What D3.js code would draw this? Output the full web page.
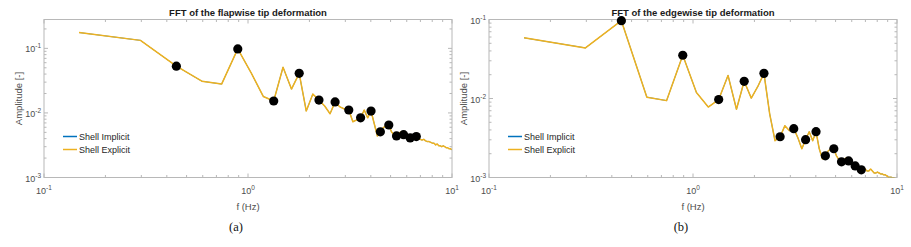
<!DOCTYPE html>
<meta charset="utf-8">
<style>
  body { margin: 0; background: #fff; }
  svg { display: block; font-family: "Liberation Sans", Arial, sans-serif; }
  .box { fill: none; stroke: #b8b8b8; stroke-width: 1px; }
  .tick { stroke: #b8b8b8; stroke-width: 1px; }
  .ticklab { font-size: 9px; fill: #4d4d4d; }
  .title { font-size: 9.5px; font-weight: bold; fill: #1a1a1a; }
  .alab { font-size: 9.5px; fill: #4d4d4d; }
  .caption { font-family: "Liberation Serif", "DejaVu Serif", serif; font-size: 12.5px; fill: #111; }
  .leg { font-size: 9px; fill: #262626; }
  .line { fill: none; stroke-width: 1.5px; stroke-linejoin: round; }
  .implicit { stroke: #0072bd; }
  .explicit { stroke: #edb120; }
  .under { stroke-width: 0.8px; }
</style>
<body>
<script src="https://cdn.jsdelivr.net/npm/d3@7"></script>
<script>

// frequency resolution of the FFT (Hz)
var df = 0.1485;

// flapwise spectrum, one value per frequency bin k*df (k = 1..67)
var flapAmp = [0.176, 0.133, 0.053, 0.031, 0.028, 0.098, 0.041, 0.018, 0.0153, 0.051,
  0.0234, 0.041, 0.0107, 0.0196, 0.0158, 0.0128, 0.0097, 0.0148, 0.0124, 0.0115,
  0.0111, 0.0073, 0.0078, 0.0084, 0.0111, 0.0084, 0.0107, 0.0068, 0.0044, 0.0051,
  0.0059, 0.0063, 0.0065, 0.0051, 0.0046, 0.0044, 0.0049, 0.0051, 0.0046, 0.0043,
  0.0041, 0.0041, 0.0043, 0.0044, 0.0043, 0.0040, 0.0039, 0.0038, 0.0039, 0.0037,
  0.0036, 0.0036, 0.0035, 0.0034, 0.0034, 0.0032, 0.0033, 0.0031, 0.0031, 0.0030,
  0.0031, 0.0030, 0.0029, 0.0029, 0.0028, 0.0028, 0.0027];

// edgewise spectrum, same bins
var edgeAmp = [0.0586, 0.0437, 0.0966, 0.0104, 0.0094, 0.0353, 0.0119, 0.0078, 0.0097, 0.0196,
  0.0073, 0.0165, 0.0101, 0.0142, 0.0208, 0.0064, 0.00292, 0.00328, 0.00453, 0.00391,
  0.00415, 0.00318, 0.00231, 0.00301, 0.00380, 0.00292, 0.00380, 0.00231, 0.00172, 0.00188,
  0.00218, 0.00231, 0.00231, 0.00188, 0.00167, 0.00162, 0.00167, 0.00177, 0.00167, 0.00153,
  0.00144, 0.00140, 0.00136, 0.00128, 0.00125, 0.00125, 0.00128, 0.00121, 0.00121, 0.00128,
  0.00121, 0.00114, 0.00114, 0.00117, 0.00114, 0.00111, 0.00111, 0.00108, 0.00108, 0.00105,
  0.00101, 0.00101, 0.00101, 0.00099, 0.00099, 0.00097, 0.00096];

// marked harmonics (bin index) and their amplitudes
var peakBins = [3, 6, 9, 12, 15, 18, 21, 24, 27, 30, 33, 36, 39, 42, 45];
var flapPeaks = [0.053, 0.098, 0.0153, 0.041, 0.0158, 0.0148, 0.0111, 0.0084, 0.0107, 0.0051,
  0.0065, 0.0044, 0.0046, 0.0041, 0.0043];
var edgePeaks = [0.0966, 0.0353, 0.0097, 0.0165, 0.0208, 0.00328, 0.00415, 0.00301, 0.00380, 0.00188,
  0.00231, 0.00158, 0.00162, 0.00140, 0.00125];

var xTicks = [0.1, 1, 10];
var xTickExp = ["-1", "0", "1"];
var yTicks = [0.001, 0.01, 0.1];
var yTickExp = ["-3", "-2", "-1"];

var legendNames = ["Shell Implicit", "Shell Explicit"];

var panels = [
  {left: 44, title: "FFT of the flapwise tip deformation", amp: flapAmp, peaks: flapPeaks,
   yMax: 0.28, caption: "(a)"},
  {left: 489, title: "FFT of the edgewise tip deformation", amp: edgeAmp, peaks: edgePeaks,
   yMax: 0.1, caption: "(b)"}
];

var plotW = 408, plotTop = 19.5, plotH = 158;

var svg = d3.select("body").append("svg")
    .attr("width", 911)
    .attr("height", 247);

panels.forEach(function(p, pi) {
  var g = svg.append("g").attr("transform", "translate(" + p.left + "," + plotTop + ")");

  var x = d3.scaleLog().domain([0.1, 10]).range([0, plotW]);
  var y = d3.scaleLog().domain([0.001, p.yMax]).range([plotH, 0]);

  var pts = p.amp.map(function(v, i) { return {f: (i + 1) * df, a: v}; });
  var peaks = p.peaks.map(function(v, i) { return {f: peakBins[i] * df, a: v}; });

  g.append("clipPath").attr("id", "clip" + pi)
    .append("rect").attr("width", plotW).attr("height", plotH);

  // minor + major ticks inside the box on all sides
  var xt = [];
  [0.1, 1].forEach(function(d) { for (var m = 1; m <= 9; m++) xt.push({v: d * m, major: m == 1}); });
  xt.push({v: 10, major: true});
  var yt = [];
  [0.001, 0.01, 0.1].forEach(function(d) {
    for (var m = 1; m <= 9; m++) if (d * m <= p.yMax * 1.0001) yt.push({v: d * m, major: m == 1});
  });

  xt.forEach(function(t) {
    var len = t.major ? 4 : 2.5;
    g.append("line").attr("class", "tick")
      .attr("x1", x(t.v)).attr("x2", x(t.v)).attr("y1", plotH).attr("y2", plotH - len);
    g.append("line").attr("class", "tick")
      .attr("x1", x(t.v)).attr("x2", x(t.v)).attr("y1", 0).attr("y2", len);
  });
  yt.forEach(function(t) {
    var len = t.major ? 4 : 2.5;
    g.append("line").attr("class", "tick")
      .attr("x1", 0).attr("x2", len).attr("y1", y(t.v)).attr("y2", y(t.v));
    g.append("line").attr("class", "tick")
      .attr("x1", plotW).attr("x2", plotW - len).attr("y1", y(t.v)).attr("y2", y(t.v));
  });

  g.append("rect").attr("class", "box").attr("width", plotW).attr("height", plotH);

  // tick labels with superscript exponents
  xTicks.forEach(function(t, i) {
    var tx = g.append("text").attr("class", "ticklab")
      .attr("x", x(t)).attr("y", plotH + 16).attr("text-anchor", "middle");
    tx.append("tspan").text("10");
    tx.append("tspan").attr("dy", -4).style("font-size", "6.5px").text(xTickExp[i]);
  });
  yTicks.forEach(function(t, i) {
    var tx = g.append("text").attr("class", "ticklab")
      .attr("x", -3).attr("y", y(t) + 4).attr("text-anchor", "end");
    tx.append("tspan").text("10");
    tx.append("tspan").attr("dy", -4).style("font-size", "6.5px").text(yTickExp[i]);
  });

  var line = d3.line()
      .x(function(d) { return x(d.f); })
      .y(function(d) { return y(d.a); });

  // implicit run sits underneath, almost fully covered by the explicit one
  var plot = g.append("g").attr("clip-path", "url(#clip" + pi + ")");
  plot.append("path").datum(pts).attr("class", "line implicit under").attr("d", line);
  plot.append("path").datum(pts).attr("class", "line explicit").attr("d", line);

  g.selectAll(".peak").data(peaks).enter().append("circle")
    .attr("class", "peak")
    .attr("cx", function(d) { return x(d.f); })
    .attr("cy", function(d) { return y(d.a); })
    .attr("r", 4.6)
    .attr("fill", "#000");

  // title and axis labels
  g.append("text").attr("class", "title")
    .attr("x", plotW / 2).attr("y", -4).attr("text-anchor", "middle").text(p.title);
  g.append("text").attr("class", "alab")
    .attr("x", plotW / 2).attr("y", plotH + 32).attr("text-anchor", "middle").text("f (Hz)");
  g.append("text").attr("class", "alab")
    .attr("transform", "translate(-22," + (plotH / 2) + ") rotate(-90)")
    .attr("text-anchor", "middle").text("Amplitude [-]");
  g.append("text").attr("class", "caption")
    .attr("x", plotW / 2 - 12).attr("y", plotH + 53).attr("text-anchor", "middle").text(p.caption);

  // legend
  legendNames.forEach(function(name, i) {
    var ly = 117 + i * 13;
    g.append("line").attr("class", "line " + (i == 0 ? "implicit" : "explicit"))
      .attr("x1", 19).attr("x2", 33).attr("y1", ly).attr("y2", ly);
    g.append("text").attr("class", "leg")
      .attr("x", 35).attr("y", ly + 3.5).text(name);
  });
});

</script>
</body>
